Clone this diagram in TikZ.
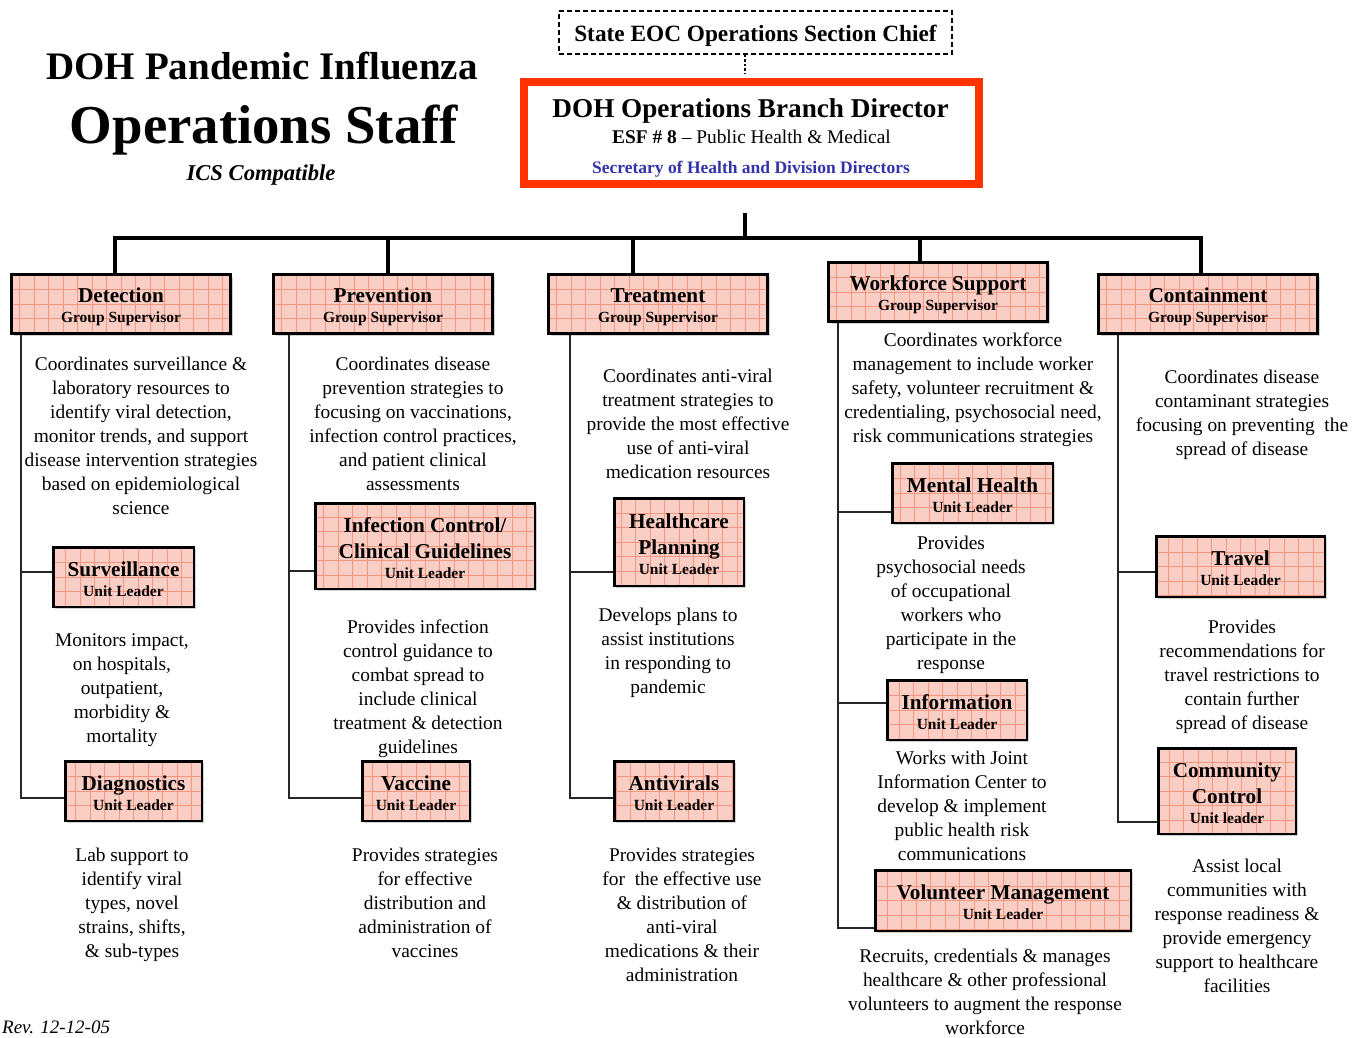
\documentclass[tikz,border=0pt]{standalone}
\usepackage{fontspec}
\setmainfont{Liberation Serif}
\usetikzlibrary{shadows}
\definecolor{boxpink}{RGB}{250,206,196}
\definecolor{gridc}{RGB}{244,150,128}
\definecolor{redb}{RGB}{255,51,0}
\definecolor{secblue}{RGB}{51,51,170}
\newcommand\subl[1]{{\fontsize{15.5}{20}\selectfont #1}}
\newcommand\mkbox[8]{%
  \node[#1, minimum width=#5pt, minimum height=#6pt] (#2) at (#3,#4) {};
  \node[boxtxt] (#2-t) at ([yshift=#7pt]#2.center) {#8};
}
\tikzset{
  gridfill/.style={fill=boxpink, path picture={\draw[gridc, line width=0.6pt] (path picture bounding box.south west) grid[step=14.5pt] (path picture bounding box.north east);}},
  shad/.style={drop shadow={shadow xshift=2pt, shadow yshift=-2pt, fill=black!35}},
  gbox/.style={shape=rectangle, inner sep=0pt, draw=black, line width=3pt, gridfill, shad},
  ubox/.style={shape=rectangle, inner sep=0pt, draw=black, line width=2.5pt, gridfill, shad},
  boxtxt/.style={align=center, inner sep=0pt, font=\fontsize{21.2}{20}\selectfont\bfseries},
  desc/.style={align=center, anchor=north, inner sep=0pt, font=\fontsize{19.4}{24}\selectfont},
  trunk/.style={line width=4pt},
  side/.style={line width=2pt, draw=black!85},
}
\begin{document}
\begin{tikzpicture}[x=1pt, y=-1pt]
\fill[white] (0,0) rectangle (1363,1038);
\useasboundingbox (0,0) rectangle (1363,1038);

% titles
\node[anchor=base, inner sep=0pt, font=\fontsize{39}{44}\selectfont\bfseries] (t1) at (262,80) {DOH Pandemic Influenza};
\node[anchor=base, inner sep=0pt, font=\fontsize{54.8}{60}\selectfont\bfseries] (t2) at (264,143) {Operations Staff};
\node[anchor=base, inner sep=0pt, font=\fontsize{22.6}{26}\selectfont\bfseries\itshape] (t3) at (261,180) {ICS Compatible};
\node[anchor=base west, inner sep=0pt, font=\fontsize{19}{22}\selectfont\itshape] (rev) at (2,1033) {Rev. 12-12-05};

% top boxes
\node[draw=black, dashed, dash pattern=on 5pt off 3pt, line width=1.3pt, minimum width=393pt, minimum height=43pt, inner sep=0pt] (eoc) at (755.5,32.5) {};
\node[anchor=base, inner sep=0pt, font=\fontsize{23.3}{26}\selectfont\bfseries] (eoc-t) at (755.5,42) {State EOC Operations Section Chief};
\node[draw=redb, line width=8pt, fill=white, minimum width=455pt, minimum height=102pt, inner sep=0pt] (dir) at (751.5,133) {};
\node[anchor=base, inner sep=0pt, font=\fontsize{27.2}{30}\selectfont\bfseries] (dir-a) at (750.5,118) {DOH Operations Branch Director};
\node[anchor=base, inner sep=0pt, font=\fontsize{19.4}{22}\selectfont] (dir-b) at (751.5,144) {\textbf{ESF \# 8} -- Public Health \& Medical};
\node[anchor=base, inner sep=0pt, font=\fontsize{17.5}{20}\selectfont\bfseries, text=secblue] (dir-c) at (751,173) {Secretary of Health and Division Directors};
\draw[line width=2.5pt, dotted] ([xshift=-10.5pt]eoc.south) -- ([xshift=-6.5pt, yshift=4pt]dir.north);

% group boxes
\mkbox{gbox}{det}{121}{304}{219}{59}{-3}{Detection\\\subl{Group Supervisor}}
\mkbox{gbox}{prev}{383}{304}{219}{59}{-3}{Prevention\\\subl{Group Supervisor}}
\mkbox{gbox}{treat}{658}{304}{219}{59}{-3}{Treatment\\\subl{Group Supervisor}}
\mkbox{gbox}{work}{938}{292}{219}{59}{-3}{Workforce Support\\\subl{Group Supervisor}}
\mkbox{gbox}{cont}{1208}{304}{219}{59}{-3}{Containment\\\subl{Group Supervisor}}

% unit boxes
\mkbox{ubox}{surv}{123.5}{577}{140.5}{59.5}{-2}{Surveillance\\\subl{Unit Leader}}
\mkbox{ubox}{diag}{133.5}{791}{136.5}{59.5}{-2}{Diagnostics\\\subl{Unit Leader}}
\mkbox{ubox}{infc}{425}{546}{219.5}{85.5}{-2}{Infection Control/\\[6pt]Clinical Guidelines\\\subl{Unit Leader}}
\mkbox{ubox}{vacc}{416}{791}{107.5}{59.5}{-2}{Vaccine\\\subl{Unit Leader}}
\mkbox{ubox}{hcp}{679}{542}{129.5}{87.5}{-2}{Healthcare\\[6pt]Planning\\\subl{Unit Leader}}
\mkbox{ubox}{antv}{674}{791}{119.5}{59.5}{-2}{Antivirals\\\subl{Unit Leader}}
\mkbox{ubox}{mh}{972.5}{493}{160.5}{59.5}{-2}{Mental Health\\\subl{Unit Leader}}
\mkbox{ubox}{info}{957}{710}{139.5}{59.5}{-2}{Information\\\subl{Unit Leader}}
\mkbox{ubox}{vol}{1003}{900.5}{255.5}{60.5}{-2}{Volunteer Management\\\subl{Unit Leader}}
\mkbox{ubox}{trav}{1240.5}{566.5}{168.5}{60.5}{-2}{Travel\\\subl{Unit Leader}}
\mkbox{ubox}{comm}{1227}{791}{137.5}{85.5}{-2}{Community\\[6pt]Control\\\subl{Unit leader}}

% trunk and bus
\coordinate (ttop) at (745,213);
\coordinate (busm) at (745,238);
\draw[trunk] (ttop) -- (busm);
\draw[trunk] (busm) -| ([xshift=-6pt]det.north);
\draw[trunk] (busm) -| ([xshift=5pt]prev.north);
\draw[trunk] (busm) -| ([xshift=-25pt]treat.north);
\draw[trunk] (busm) -| ([xshift=-18pt]work.north);
\draw[trunk] (busm) -| ([xshift=-7pt]cont.north);

% side connectors
\draw[side] ([xshift=10.5pt]det.south west) |- ([yshift=-7pt]diag.west);
\draw[side] ([xshift=10.5pt]det.south west) |- ([yshift=5pt]surv.west);
\draw[side] ([xshift=16.5pt]prev.south west) |- ([yshift=-7pt]vacc.west);
\draw[side] ([xshift=16.5pt]prev.south west) |- ([yshift=-25pt]infc.west);
\draw[side] ([xshift=22.5pt]treat.south west) |- ([yshift=-7pt]antv.west);
\draw[side] ([xshift=22.5pt]treat.south west) |- ([yshift=-30pt]hcp.west);
\draw[side] ([xshift=10.5pt]work.south west) |- ([yshift=-27.5pt]vol.west);
\draw[side] ([xshift=10.5pt]work.south west) |- ([yshift=-19pt]mh.west);
\draw[side] ([xshift=10.5pt]work.south west) |- ([yshift=7pt]info.west);
\draw[side] ([xshift=21pt]cont.south west) |- ([yshift=-31pt]comm.west);
\draw[side] ([xshift=21pt]cont.south west) |- ([yshift=-5.5pt]trav.west);

% descriptions
\node[desc] (ddet) at (141,357) {Coordinates surveillance \&\\laboratory resources to\\identify viral detection,\\monitor trends, and support\\disease intervention strategies\\based on epidemiological\\science};
\node[desc] (dsurv) at (122,633) {Monitors impact,\\on hospitals,\\outpatient,\\morbidity \&\\mortality};
\node[desc] (ddiag) at (132,848) {Lab support to\\identify viral\\types, novel\\strains, shifts,\\\& sub-types};
\node[desc] (dprev) at (413,357) {Coordinates disease\\prevention strategies to\\focusing on vaccinations,\\infection control practices,\\and patient clinical\\assessments};
\node[desc] (dinfc) at (418,620) {Provides infection\\control guidance to\\combat spread to\\include clinical\\treatment \& detection\\guidelines};
\node[desc] (dvacc) at (425,848) {Provides strategies\\for effective\\distribution and\\administration of\\vaccines};
\node[desc] (dtreat) at (688,369) {Coordinates anti-viral\\treatment strategies to\\provide the most effective\\use of anti-viral\\medication resources};
\node[desc] (dhcp) at (668,608) {Develops plans to\\assist institutions\\in responding to\\pandemic};
\node[desc] (dantv) at (682,848) {Provides strategies\\for\ \ the effective use\\\& distribution of\\anti-viral\\medications \& their\\administration};
\node[desc] (dwork) at (973,333) {Coordinates workforce\\management to include worker\\safety, volunteer recruitment \&\\credentialing, psychosocial need,\\risk communications strategies};
\node[desc] (dmh) at (951,536) {Provides\\psychosocial needs\\of occupational\\workers who\\participate in the\\response};
\node[desc] (dinfo) at (962,751) {Works with Joint\\Information Center to\\develop \& implement\\public health risk\\communications};
\node[desc] (dvol) at (985,949) {Recruits, credentials \& manages\\healthcare \& other professional\\volunteers to augment the response\\workforce};
\node[desc] (dcont) at (1242,370) {Coordinates disease\\contaminant strategies\\focusing on preventing\ \ the\\spread of disease};
\node[desc] (dtrav) at (1242,620) {Provides\\recommendations for\\travel restrictions to\\contain further\\spread of disease};
\node[desc] (dcomm) at (1237,859) {Assist local\\communities with\\response readiness \&\\provide emergency\\support to healthcare\\facilities};
\end{tikzpicture}
\end{document}
